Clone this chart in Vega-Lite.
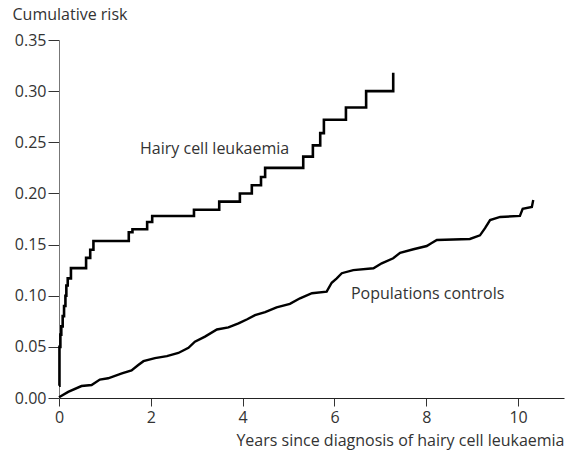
{
  "$schema": "https://vega.github.io/schema/vega-lite/v6.json",
  "width": 505,
  "height": 358,
  "autosize": "none",
  "padding": {"left": 59, "top": 40, "right": 6, "bottom": 55},
  "background": "white",
  "config": {
    "view": {"stroke": null},
    "font": "Open Sans",
    "axis": {"grid": false, "labelFont": "Open Sans", "titleFont": "Open Sans", "labelFontSize": 16, "titleFontSize": 16, "labelColor": "#333", "titleColor": "#333", "titleFontWeight": "normal"}
  },
  "datasets": {
    "hairy": [
      {"series": "Hairy cell leukaemia", "t": 0, "v": 0.012},
      {"series": "Hairy cell leukaemia", "t": 0.01, "v": 0.05},
      {"series": "Hairy cell leukaemia", "t": 0.03, "v": 0.062},
      {"series": "Hairy cell leukaemia", "t": 0.05, "v": 0.07},
      {"series": "Hairy cell leukaemia", "t": 0.08, "v": 0.08},
      {"series": "Hairy cell leukaemia", "t": 0.11, "v": 0.09},
      {"series": "Hairy cell leukaemia", "t": 0.14, "v": 0.1},
      {"series": "Hairy cell leukaemia", "t": 0.16, "v": 0.11},
      {"series": "Hairy cell leukaemia", "t": 0.19, "v": 0.117},
      {"series": "Hairy cell leukaemia", "t": 0.26, "v": 0.127},
      {"series": "Hairy cell leukaemia", "t": 0.59, "v": 0.137},
      {"series": "Hairy cell leukaemia", "t": 0.68, "v": 0.145},
      {"series": "Hairy cell leukaemia", "t": 0.75, "v": 0.1535},
      {"series": "Hairy cell leukaemia", "t": 1.52, "v": 0.162},
      {"series": "Hairy cell leukaemia", "t": 1.6, "v": 0.165},
      {"series": "Hairy cell leukaemia", "t": 1.92, "v": 0.172},
      {"series": "Hairy cell leukaemia", "t": 2.03, "v": 0.178},
      {"series": "Hairy cell leukaemia", "t": 2.94, "v": 0.184},
      {"series": "Hairy cell leukaemia", "t": 3.49, "v": 0.192},
      {"series": "Hairy cell leukaemia", "t": 3.94, "v": 0.2},
      {"series": "Hairy cell leukaemia", "t": 4.2, "v": 0.208},
      {"series": "Hairy cell leukaemia", "t": 4.4, "v": 0.216},
      {"series": "Hairy cell leukaemia", "t": 4.49, "v": 0.225},
      {"series": "Hairy cell leukaemia", "t": 5.32, "v": 0.236},
      {"series": "Hairy cell leukaemia", "t": 5.53, "v": 0.247},
      {"series": "Hairy cell leukaemia", "t": 5.69, "v": 0.259},
      {"series": "Hairy cell leukaemia", "t": 5.77, "v": 0.272},
      {"series": "Hairy cell leukaemia", "t": 6.25, "v": 0.284},
      {"series": "Hairy cell leukaemia", "t": 6.69, "v": 0.3},
      {"series": "Hairy cell leukaemia", "t": 7.28, "v": 0.318}
    ],
    "controls": [
      {"series": "Populations controls", "t": 0, "v": 0.0007},
      {"series": "Populations controls", "t": 0.2, "v": 0.006},
      {"series": "Populations controls", "t": 0.49, "v": 0.0117},
      {"series": "Populations controls", "t": 0.71, "v": 0.0127},
      {"series": "Populations controls", "t": 0.89, "v": 0.018},
      {"series": "Populations controls", "t": 1.07, "v": 0.0193},
      {"series": "Populations controls", "t": 1.37, "v": 0.024},
      {"series": "Populations controls", "t": 1.58, "v": 0.027},
      {"series": "Populations controls", "t": 1.72, "v": 0.032},
      {"series": "Populations controls", "t": 1.84, "v": 0.036},
      {"series": "Populations controls", "t": 2.09, "v": 0.039},
      {"series": "Populations controls", "t": 2.35, "v": 0.041},
      {"series": "Populations controls", "t": 2.6, "v": 0.044},
      {"series": "Populations controls", "t": 2.82, "v": 0.049},
      {"series": "Populations controls", "t": 2.96, "v": 0.055},
      {"series": "Populations controls", "t": 3.18, "v": 0.06},
      {"series": "Populations controls", "t": 3.44, "v": 0.067},
      {"series": "Populations controls", "t": 3.69, "v": 0.069},
      {"series": "Populations controls", "t": 3.91, "v": 0.073},
      {"series": "Populations controls", "t": 4.1, "v": 0.077},
      {"series": "Populations controls", "t": 4.27, "v": 0.081},
      {"series": "Populations controls", "t": 4.49, "v": 0.084},
      {"series": "Populations controls", "t": 4.74, "v": 0.0887},
      {"series": "Populations controls", "t": 5.03, "v": 0.092},
      {"series": "Populations controls", "t": 5.25, "v": 0.0975},
      {"series": "Populations controls", "t": 5.51, "v": 0.1024},
      {"series": "Populations controls", "t": 5.83, "v": 0.104},
      {"series": "Populations controls", "t": 5.94, "v": 0.1127},
      {"series": "Populations controls", "t": 6.05, "v": 0.117},
      {"series": "Populations controls", "t": 6.16, "v": 0.122},
      {"series": "Populations controls", "t": 6.41, "v": 0.125},
      {"series": "Populations controls", "t": 6.85, "v": 0.1268},
      {"series": "Populations controls", "t": 7.03, "v": 0.1317},
      {"series": "Populations controls", "t": 7.28, "v": 0.1366},
      {"series": "Populations controls", "t": 7.43, "v": 0.142},
      {"series": "Populations controls", "t": 7.72, "v": 0.1454},
      {"series": "Populations controls", "t": 8.01, "v": 0.1486},
      {"series": "Populations controls", "t": 8.1, "v": 0.151},
      {"series": "Populations controls", "t": 8.23, "v": 0.1545},
      {"series": "Populations controls", "t": 8.95, "v": 0.1555},
      {"series": "Populations controls", "t": 9.17, "v": 0.159},
      {"series": "Populations controls", "t": 9.28, "v": 0.166},
      {"series": "Populations controls", "t": 9.39, "v": 0.174},
      {"series": "Populations controls", "t": 9.61, "v": 0.177},
      {"series": "Populations controls", "t": 10.04, "v": 0.178},
      {"series": "Populations controls", "t": 10.1, "v": 0.185},
      {"series": "Populations controls", "t": 10.3, "v": 0.1867},
      {"series": "Populations controls", "t": 10.33, "v": 0.1936}
    ],
    "labels": [
      {"label": "Hairy cell leukaemia", "t": 1.765, "v": 0.2434},
      {"label": "Populations controls", "t": 6.36, "v": 0.1017}
    ]
  },
  "encoding": {
    "x": {
      "field": "t", "type": "quantitative",
      "scale": {"domain": [0, 11], "nice": false, "zero": false},
      "axis": {
        "values": [0, 2, 4, 6, 8, 10],
        "title": "Years since diagnosis of hairy cell leukaemia",
        "titleAnchor": "end", "titleAlign": "right", "titleX": 505, "titleY": 47, "titleBaseline": "alphabetic",
        "tickSize": 8, "tickColor": "#333", "domainColor": "#222", "labelPadding": 3,
        "labelFlush": false
      }
    },
    "y": {
      "field": "v", "type": "quantitative",
      "scale": {"domain": [0, 0.35], "nice": false},
      "axis": {
        "values": [0, 0.05, 0.1, 0.15, 0.2, 0.25, 0.3, 0.35],
        "format": ".2f",
        "title": "Cumulative risk",
        "titleAngle": 0, "titleAlign": "left", "titleBaseline": "alphabetic",
        "titleX": -47, "titleY": -21,
        "tickSize": 11, "tickColor": "#333", "domainColor": "#777", "labelPadding": 2,
        "labelFlush": false
      }
    }
  },
  "layer": [
    {
      "data": {"name": "hairy"},
      "mark": {"type": "line", "interpolate": "step-after", "color": "black", "strokeWidth": 2.6}
    },
    {
      "data": {"name": "controls"},
      "mark": {"type": "line", "interpolate": "linear", "color": "black", "strokeWidth": 2.4}
    },
    {
      "data": {"name": "labels"},
      "mark": {"type": "text", "align": "left", "baseline": "middle", "fontSize": 16, "font": "Open Sans", "color": "#333"},
      "encoding": {
        "text": {"field": "label"}
      }
    }
  ]
}
